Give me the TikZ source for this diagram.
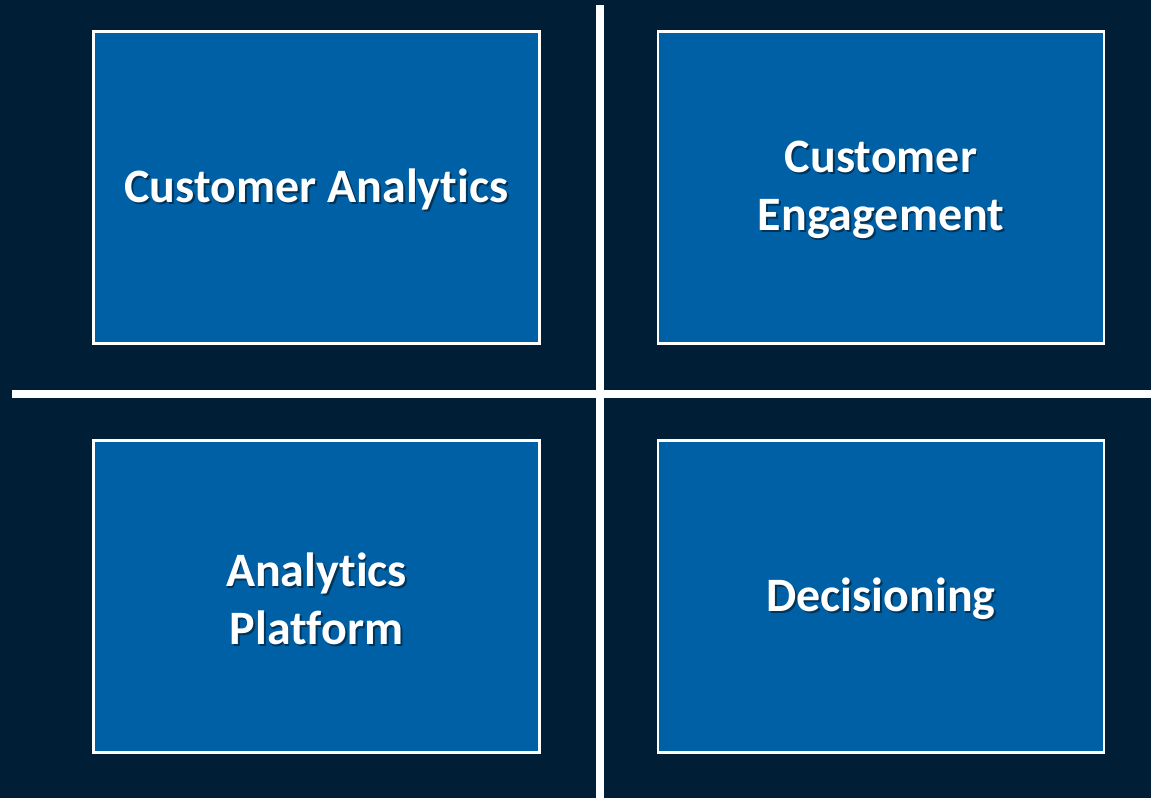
\documentclass[tikz,border=0pt]{standalone}
\usepackage{fontspec}
\setmainfont[Ligatures=NoCommon]{Carlito}
\definecolor{bgnavy}{HTML}{001F37}
\definecolor{boxblue}{HTML}{0060A5}
\definecolor{shadowc}{HTML}{023358}
\newcommand\shtxt[1]{\leavevmode\rlap{\kern1.8pt\raisebox{-1.8pt}{\textcolor{shadowc}{#1}}}#1}
\tikzset{
  quadbox/.style={draw=white, line width=2.6pt, fill=boxblue, minimum width=446pt, minimum height=312pt,
    inner sep=0pt},
  quadtext/.style={align=center, text=white, inner sep=0pt, font=\fontsize{48}{58}\selectfont\bfseries},
  divider/.style={draw=white, line width=7.5pt}
}
\begin{document}
\begin{tikzpicture}[x=1pt,y=-1pt]
\fill[bgnavy] (0,0) rectangle (1151,798);
\useasboundingbox (0,0) rectangle (1151,798);
\coordinate (vtop) at (600,5);
\coordinate (vbot) at (600,798);
\coordinate (hleft) at (12,394);
\coordinate (hright) at (1151,394);
\draw[divider] (vtop) -- (vbot);
\draw[divider] (hleft) -- (hright);
\node[quadbox] (ca) at (316.5,187.5) {};
\node[quadbox] (ce) at (881,187.5) {};
\node[quadbox] (ap) at (316.5,596.5) {};
\node[quadbox] (de) at (881,596.5) {};
\node[quadtext] (cat) at ([yshift=-3pt]ca.center) {\shtxt{Customer Analytics}};
\node[quadtext] (cet) at ([yshift=-3pt]ce.center) {\shtxt{Customer}\\\shtxt{Engagement}};
\node[quadtext] (apt) at ([yshift=-3pt]ap.center) {\shtxt{Analytics}\\\shtxt{Platform}};
\node[quadtext] (det) at ([yshift=-3pt]de.center) {\shtxt{Decisioning}};
\end{tikzpicture}
\end{document}
